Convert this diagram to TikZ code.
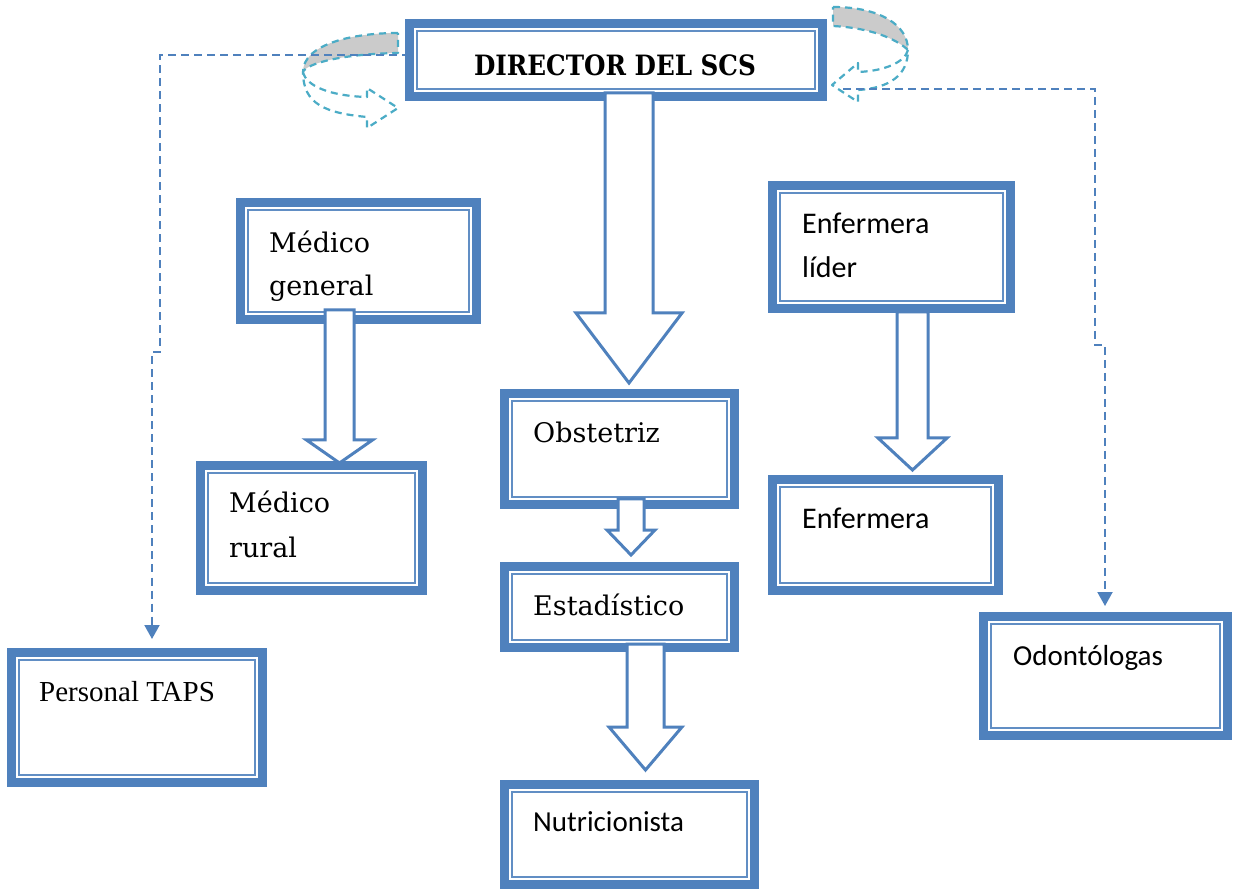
\documentclass[tikz,border=0pt]{standalone}
\usepackage{fontspec}
\setmainfont{DejaVu Serif}
\newfontfamily\calib{Carlito}
\newfontfamily\tnr{Liberation Serif}
\usetikzlibrary{arrows.meta}
\definecolor{myblue}{HTML}{4F81BD}
\definecolor{mycyan}{HTML}{4BACC6}
\definecolor{mygray}{HTML}{CBCBCB}
\newcommand\orgbox[5]{%
  \node[orgbox, minimum width={#4-#2-9}, minimum height={#5-#3-9}] (#1) at ({(#2+#4)/2},{(#3+#5)/2}) {};
  \draw[inbox] ([shift={(7.5,7.5)}]#1.north west) rectangle ([shift={(-7.5,-7.5)}]#1.south east);
}
% x centre, top, tip, shaft half width, head half width, head start
\newcommand\blockarr[6]{%
  \draw[barrow] (#1-#4,#2) -- (#1-#4,#6) -- (#1-#5,#6) -- (#1,#3) -- (#1+#5,#6) -- (#1+#4,#6) -- (#1+#4,#2) -- cycle;
}
\begin{document}
\begin{tikzpicture}[x=1pt,y=-1pt,
  orgbox/.style={draw=myblue, line width=9pt, fill=white, inner sep=0pt, outer sep=0pt, rectangle},
  inbox/.style={draw=myblue!90, line width=2.2pt},
  barrow/.style={draw=myblue, line width=3pt, fill=white, line join=miter},
  dashconn/.style={draw=myblue, line width=2pt, dash pattern=on 8pt off 5pt},
  curv/.style={draw=mycyan, line width=2.2pt, dash pattern=on 7pt off 5pt, line join=round},
  lbl/.style={anchor=base west, inner sep=0pt},
  cam/.style={lbl, font=\fontsize{27}{30}\selectfont},
  cal/.style={lbl, font=\calib\fontsize{29}{33}\selectfont},
  calb/.style={lbl, font=\calib\fontsize{30}{34}\selectfont},
  tip/.style={-{Triangle[width=15pt,length=14pt]}},
]
\useasboundingbox[fill=white] (0,0) rectangle (1235,890);

% curved arrows beside the director box
\draw[curv, fill=mygray] (398,33) .. controls (350,33) and (303,45) .. (303,72)
  .. controls (306,64) and (340,54) .. (398,53) -- cycle;
\draw[curv] (303,72) .. controls (306,86) and (330,96) .. (367,97) -- (367,88) -- (398,108)
  -- (367,128) -- (367,117) .. controls (325,113) and (303,104) .. (303,72);
\draw[curv, fill=mygray] (833,7) .. controls (880,7) and (908,25) .. (908,50)
  .. controls (895,38) and (870,28) .. (833,26) -- cycle;
\draw[curv] (908,50) .. controls (905,62) and (885,71) .. (858,72) -- (858,63) -- (832,85)
  -- (858,102) -- (858,90) .. controls (890,88) and (908,75) .. (908,50);

% boxes
\orgbox{dir}{405}{19}{827}{101}
\orgbox{mg}{236}{198}{481}{324}
\orgbox{mr}{196}{461}{427}{595}
\orgbox{ob}{500}{389}{739}{509}
\orgbox{es}{500}{562}{739}{652}
\orgbox{nu}{500}{780}{759}{889}
\orgbox{el}{768}{181}{1015}{313}
\orgbox{en}{768}{475}{1003}{595}
\orgbox{od}{979}{612}{1232}{740}
\orgbox{pt}{7}{648}{267}{787}

% dashed connectors
\coordinate (lturn) at (160,352);
\coordinate (lend) at (152,639);
\draw[dashconn, tip] (dir.west |- 0,55) -| (lturn) -- (152,352) -- (lend);
\coordinate (rstart) at (843,89);
\draw[dashconn, tip] (rstart) -- (1095,89) -- (1095,345) -- (1105,345) -- (1105,606);

% block arrows
\blockarr{629}{93}{383}{24}{53}{313}
\blockarr{339.5}{310}{463}{14.5}{33}{440}
\blockarr{631}{499}{555}{13}{24}{530}
\blockarr{645.5}{644}{770}{18.5}{36.5}{727}
\blockarr{912.5}{312}{470}{15.5}{34.5}{438}

% texts
\node[lbl, anchor=base, xscale=0.88, font=\bfseries\fontsize{28}{30}\selectfont] (dirt) at (615,76) {DIRECTOR DEL SCS};
\node[cam] (mg1) at (269,253) {Médico};
\node[cam] (mg2) at (269,296) {general};
\node[cam] (mr1) at (229,513) {Médico};
\node[cam] (mr2) at (229,558) {rural};
\node[cam] (obt) at (533,443) {Obstetriz};
\node[cam] (est) at (533,615) {Estadístico};
\node[cal] (nut) at (533,831) {Nutricionista};
\node[calb] (el1) at (802,234) {Enfermera};
\node[calb] (el2) at (802,278) {líder};
\node[calb] (ent) at (802,529) {Enfermera};
\node[cal] (odt) at (1013,665) {Odontólogas};
\node[lbl, font=\tnr\fontsize{29}{33}\selectfont] (ptt) at (39,701) {Personal TAPS};
\end{tikzpicture}
\end{document}
